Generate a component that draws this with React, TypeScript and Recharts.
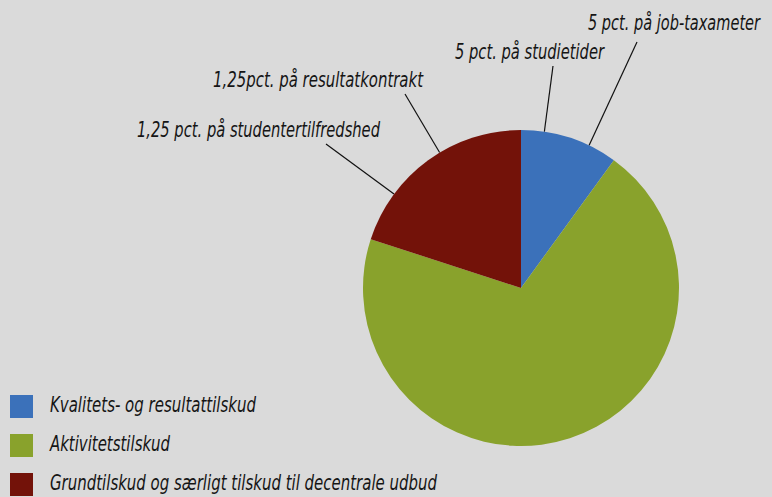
import { PieChart, Pie, Cell, Customized } from 'recharts'

// Andel af tilskud (pct.)
const categories = ['Kvalitets- og resultattilskud', 'Aktivitetstilskud', 'Grundtilskud og særligt tilskud til decentrale udbud']
const shares = [10, 70, 20]
const colors = ['#3b71ba', '#89a22c', '#731209']

// Annotations: text, angle on the pie edge (degrees, 0 = 3 o'clock, counter-clockwise)
const noteLabels = ['5 pct. på job-taxameter', '5 pct. på studietider', '1,25pct. på resultatkontrakt', '1,25 pct. på studentertilfredshed']
const noteAngles = [64.5, 81.5, 121, 143.5]

const W = 772
const H = 497
const CX = 521
const CY = 288
const R = 158
const FONT = '"Liberation Sans Narrow", "DejaVu Sans Condensed", "Open Sans", sans-serif'

// layout for the annotation texts (x, baseline, width) and where the leader line starts
const noteLayout = [
    { x: 588, y: 30, w: 172, lx: 637, ly: 42 },
    { x: 455, y: 59, w: 149, lx: 553, ly: 66 },
    { x: 213, y: 87, w: 210, lx: 405, ly: 94 },
    { x: 137, y: 137, w: 243, lx: 326, ly: 144 },
]

const legendLayout = [
    { y: 395, w: 206 },
    { y: 434, w: 120 },
    { y: 473, w: 387 },
]

const data = categories.map((name, i) => ({ name, value: shares[i] }))

function Notes() {
    return (
        <g>
            {noteLabels.map((label, i) => {
                const a = (noteAngles[i] * Math.PI) / 180
                const px = CX + R * Math.cos(a)
                const py = CY - R * Math.sin(a)
                const l = noteLayout[i]
                return (
                    <g key={label}>
                        <line x1={l.lx} y1={l.ly} x2={px} y2={py} stroke="#111" strokeWidth={1.2} />
                        <text x={l.x} y={l.y} fontFamily={FONT} fontStyle="italic" fontSize={21} fill="#151515"
                            textLength={l.w} lengthAdjust="spacingAndGlyphs">
                            {label}
                        </text>
                    </g>
                )
            })}
        </g>
    )
}

function LegendBlock() {
    return (
        <g>
            {categories.map((name, i) => {
                const l = legendLayout[i]
                return (
                    <g key={name}>
                        <rect x={10} y={l.y} width={23} height={23} fill={colors[i]} />
                        <text x={50} y={l.y + 17} fontFamily={FONT} fontStyle="italic" fontSize={21} fill="#151515"
                            textLength={l.w} lengthAdjust="spacingAndGlyphs">
                            {name}
                        </text>
                    </g>
                )
            })}
        </g>
    )
}

export default function App() {
    return (
        <div style={{ position: 'absolute', left: 0, top: 0, width: W, height: H, background: '#dadada' }}>
            <PieChart width={W} height={H} margin={{ top: 0, right: 0, bottom: 0, left: 0 }}>
                <Pie
                    data={data}
                    dataKey="value"
                    nameKey="name"
                    cx={CX}
                    cy={CY}
                    outerRadius={R}
                    startAngle={90}
                    endAngle={-270}
                    stroke="none"
                    isAnimationActive={false}
                >
                    {data.map((d, i) => (
                        <Cell key={d.name} fill={colors[i]} />
                    ))}
                </Pie>
                <Customized component={Notes} />
                <Customized component={LegendBlock} />
            </PieChart>
        </div>
    )
}
